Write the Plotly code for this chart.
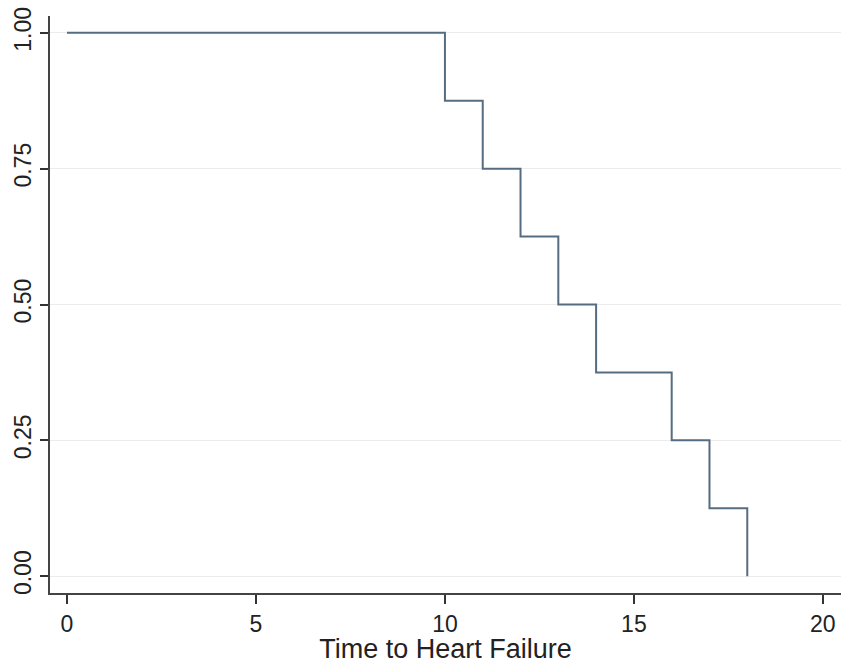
import plotly.graph_objects as go

time = [0, 10, 11, 12, 13, 14, 16, 17, 18]
survival = [1.0, 0.875, 0.75, 0.625, 0.5, 0.375, 0.25, 0.125, 0.0]
x_ticks = [0, 5, 10, 15, 20]
y_ticks = [0.0, 0.25, 0.5, 0.75, 1.0]
y_tick_labels = ["0.00", "0.25", "0.50", "0.75", "1.00"]

fig = go.Figure()
fig.add_trace(go.Scatter(
    x=time, y=survival, mode="lines",
    line=dict(shape="hv", color="#566c80", width=2),
    showlegend=False, hoverinfo="skip",
))

font = "Liberation Sans, Arial, Helvetica, sans-serif"
fig.update_layout(
    width=841, height=664,
    margin=dict(l=50, r=0, t=16, b=71),
    paper_bgcolor="white", plot_bgcolor="white",
    font=dict(family=font, color="#222", size=23),
    xaxis=dict(
        range=[-0.45, 20.48], tickvals=x_ticks, ticks="outside", ticklen=9,
        tickwidth=1.5, tickcolor="#333", showline=True, linecolor="#444",
        linewidth=2, showgrid=False, zeroline=False,
        tickfont=dict(size=23), ticklabeloverflow="allow",
        title=dict(text="Time to Heart Failure", font=dict(size=27), standoff=4),
    ),
    yaxis=dict(
        range=[-0.031, 1.031], tickvals=y_ticks, ticktext=y_tick_labels,
        tickangle=-90, ticks="outside", ticklen=8, tickwidth=1.5, tickcolor="#333",
        showline=True, linecolor="#444", linewidth=2,
        showgrid=True, gridcolor="#ececec", gridwidth=1, zeroline=False,
        tickfont=dict(size=23), ticklabeloverflow="allow",
    ),
)

fig.write_html(
    "out.html",
    config={"displayModeBar": False},
    post_script="document.body.style.margin='0';document.body.style.overflow='hidden';",
)
